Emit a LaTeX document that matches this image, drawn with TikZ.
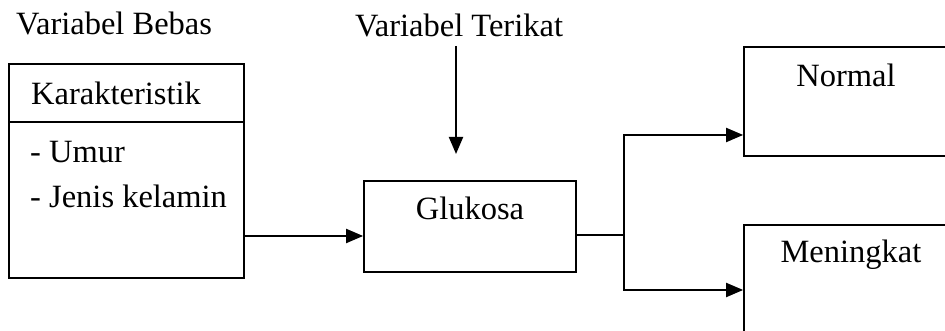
\documentclass[tikz,border=0pt]{standalone}
\usepackage{fontspec}
\setmainfont{Liberation Serif}
\usetikzlibrary{arrows.meta}
\begin{document}
\begin{tikzpicture}[x=1pt,y=1pt,
  box/.style={draw,line width=1.7pt,rectangle,inner sep=0pt},
  lbl/.style={inner sep=0pt,font=\fontsize{32.5}{38}\selectfont},
  arr/.style={line width=1.9pt,-{Triangle[length=17pt,width=14pt]}},
  ln/.style={line width=1.9pt}]
\useasboundingbox (0,0) rectangle (945,331);
\clip (0,0) rectangle (945,331);
% boxes
\node[box,minimum width=235pt,minimum height=214pt] (kar) at (126.5,160) {};
\coordinate (divl) at (9,209);
\coordinate (divr) at (244,209);
\draw[line width=1.7pt] (divl) -- (divr);
\node[box,minimum width=212pt,minimum height=91pt] (glu) at (470,104.5) {};
\node[box,minimum width=220pt,minimum height=109pt] (norm) at (854,229.5) {};
\node[box,minimum width=220pt,minimum height=115pt] (men) at (854,48.5) {};
% texts
\node[lbl,anchor=base west] (vb) at (16,296) {Variabel Bebas};
\node[lbl,anchor=base] (vt) at (459,294) {Variabel Terikat};
\node[lbl,anchor=base west] (tkar) at (31,226) {Karakteristik};
\node[lbl,anchor=base west] (tumur) at (30,168) {- Umur};
\node[lbl,anchor=base west] (tjk) at (30,123) {- Jenis kelamin};
\node[lbl,anchor=base] (tglu) at (470,111) {Glukosa};
\node[lbl,anchor=base] (tnorm) at (846,244) {Normal};
\node[lbl,anchor=base] (tmen) at (851,68) {Meningkat};
% connectors
\coordinate (vtop) at (456,285);
\coordinate (vtip) at (456,177);
\draw[arr] (vtop) -- (vtip);
\draw[arr] (kar.east |- 0,95) -- (glu.west |- 0,95);
\coordinate (br) at (624,96);
\draw[ln] (glu.east |- br) -- (br);
\draw[arr] (br) |- (norm.west |- 0,196);
\draw[arr] (br) |- (men.west |- 0,41);
\end{tikzpicture}
\end{document}
